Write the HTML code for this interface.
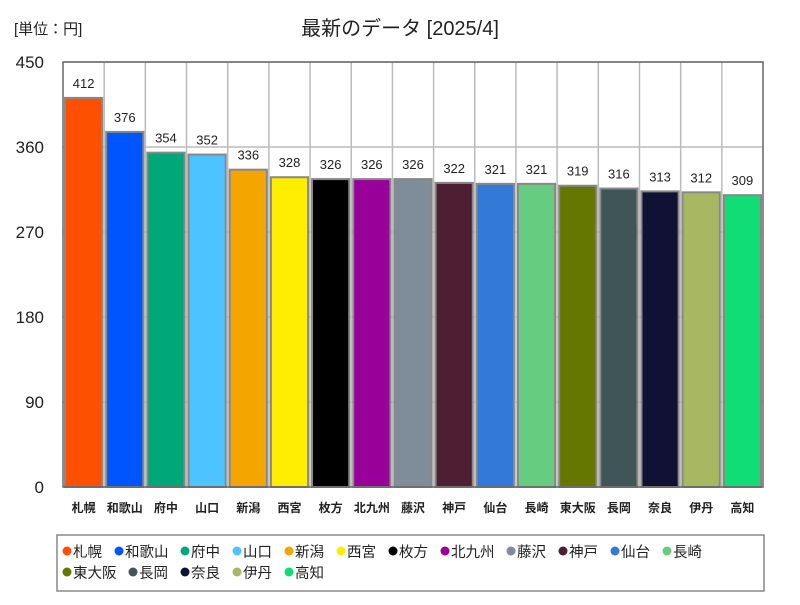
<!DOCTYPE html>
<html><head><meta charset="utf-8"><style>
body{margin:0;background:#fff;font-family:"Liberation Sans","Noto Sans CJK JP",sans-serif;}
svg text{font-family:"Liberation Sans","Noto Sans CJK JP",sans-serif;}
</style></head><body>
<svg id="c" width="800" height="600" xmlns="http://www.w3.org/2000/svg">
<text x="400" y="35" text-anchor="middle" font-size="20" fill="#222">最新のデータ [2025/4]</text>
<text x="14" y="34" font-size="15" fill="#222">[単位：円]</text>
<g id="grid"></g><g id="bars"></g><g id="labels"></g>
<rect x="63" y="62" width="700" height="425" fill="none" stroke="#666" stroke-width="1.5"/>
<rect x="57" y="535" width="707" height="56" fill="#fff" stroke="#888" stroke-width="1.5"/>
<g id="legend"></g>
</svg>
<script>
const categories=["札幌","和歌山","府中","山口","新潟","西宮","枚方","北九州","藤沢","神戸","仙台","長崎","東大阪","長岡","奈良","伊丹","高知"];
const values=[412,376,354,352,336,328,326,326,326,322,321,321,319,316,313,312,309];
const colors=["#ff4f00","#0055ff","#00a878","#4dc3ff","#f5a500","#ffee00","#000000","#990099","#7f8c99","#4e1e33","#337ad8","#66cc80","#667700","#3f5558","#111133","#a8b860","#11dd77"];
const yTicks=[0,90,180,270,360,450];
const NS="http://www.w3.org/2000/svg";
const L=63,R=763,T=62,B=487,yMax=450;
const y=v=>B-(v/yMax)*(B-T);
const slot=(R-L)/categories.length;
const x=i=>L+i*slot;
function mk(t,a,p){const e=document.createElementNS(NS,t);for(const k in a)e.setAttribute(k,a[k]);p.appendChild(e);return e;}
const g=document.getElementById('grid'),b=document.getElementById('bars'),lb=document.getElementById('labels'),lg=document.getElementById('legend');
yTicks.forEach(t=>{
 const l=mk('line',{x1:L,x2:R,y1:y(t),y2:y(t),stroke:'#bbb','stroke-width':1.5},g);
 
 
 const tx=mk('text',{x:44,y:y(t)+6,'text-anchor':'end','font-size':17,fill:'#222'},lb);
 tx.textContent=t;
 
 
});
categories.forEach((c,i)=>{
 if(i>0){const l=mk('line',{x1:x(i),x2:x(i),y1:T,y2:B,stroke:'#bbb','stroke-width':1.5},g);
 
 }
 const r=mk('rect',{x:x(i)+2,y:y(values[i]),width:slot-4,height:B-y(values[i]),fill:colors[i],stroke:'#888','stroke-width':2},b);
 
 
 const v=mk('text',{x:x(i)+slot/2,y:y(values[i])-10,'text-anchor':'middle','font-size':13,fill:'#222'},lb);
 v.textContent=values[i];
 
 
 const ct=mk('text',{x:x(i)+slot/2,y:512,'text-anchor':'middle','font-size':12,'font-weight':'bold',fill:'#222'},lb);
 ct.textContent=c;
 
 
});
let lx=62,ly=552;
categories.forEach((c,i)=>{
 const w=16+c.length*14+8;
 if(lx+w>760){lx=62;ly+=21;}
 const e=mk('g',{},lg);
 
 
 mk('circle',{cx:lx+5,cy:ly-1,r:4.5,fill:colors[i]},e);
 const t=mk('text',{x:lx+11,y:ly+5,'font-size':14.5,fill:'#222'},e);
 t.textContent=c;
 lx+=w;
});
</script>
</body></html>
